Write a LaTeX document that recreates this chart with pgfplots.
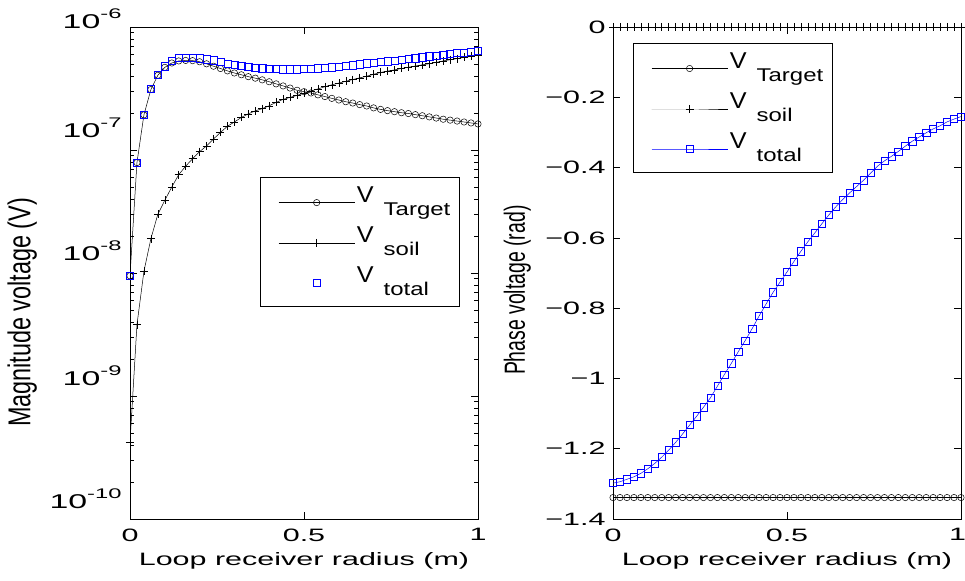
\documentclass[border=0pt]{standalone}
\usepackage{fontspec}
\setmainfont{Liberation Sans}
\newfontfamily\tfont{Liberation Sans}[FakeStretch=1.7]
\newfontfamily\vfont{Liberation Sans}[FakeStretch=1.1]
\newfontfamily\sfont{Liberation Sans}[FakeStretch=1.3]
\usepackage{graphicx}
\usepackage{pgfplots}
\usepackage{pgfplotstable}
\pgfplotsset{compat=1.18}

\newcommand{\tk}{\tfont\fontsize{18}{20}\selectfont}
\newcommand{\lgd}[1]{{\vfont\fontsize{23}{24}\selectfont\raisebox{13bp}{V}}\hspace{10bp}{\sfont\fontsize{18.5}{19}\selectfont #1\vphantom{g}}}
\newcommand{\ex}[2]{\raisebox{#2}[\height][\depth]{{\tfont\fontsize{20}{22}\selectfont 10}\raisebox{10bp}{\tfont\fontsize{14}{15}\selectfont #1}}}
\newcommand{\yl}[3]{\scalebox{1}[#3]{\rmfamily\fontsize{#2}{#2}\selectfont #1}}

\pgfplotstableread{
x T S V
0.00 9.5e-9 4.2e-10 9.5e-9
0.02 7.9e-8 3.8e-9 7.9e-8
0.04 1.93e-7 1.03e-8 1.93e-7
0.06 3.10e-7 1.9e-8 3.13e-7
0.08 4.05e-7 3.0e-8 4.10e-7
0.10 4.70e-7 3.9e-8 4.80e-7
0.12 5.10e-7 5.0e-8 5.30e-7
0.14 5.30e-7 6.3e-8 5.58e-7
0.16 5.35e-7 7.4e-8 5.66e-7
0.18 5.33e-7 8.5e-8 5.64e-7
0.20 5.22e-7 9.7e-8 5.56e-7
0.22 5.02e-7 1.08e-7 5.46e-7
0.24 4.80e-7 1.23e-7 5.36e-7
0.26 4.60e-7 1.39e-7 5.20e-7
0.28 4.40e-7 1.56e-7 5.05e-7
0.30 4.23e-7 1.69e-7 4.94e-7
0.32 4.09e-7 1.84e-7 4.86e-7
0.34 3.95e-7 1.97e-7 4.77e-7
0.36 3.84e-7 2.08e-7 4.69e-7
0.38 3.72e-7 2.17e-7 4.61e-7
0.40 3.59e-7 2.29e-7 4.57e-7
0.42 3.45e-7 2.44e-7 4.54e-7
0.44 3.32e-7 2.58e-7 4.53e-7
0.46 3.19e-7 2.68e-7 4.53e-7
0.48 3.06e-7 2.78e-7 4.53e-7
0.50 2.98e-7 2.90e-7 4.55e-7
0.52 2.91e-7 3.02e-7 4.58e-7
0.54 2.81e-7 3.14e-7 4.61e-7
0.56 2.72e-7 3.27e-7 4.65e-7
0.58 2.63e-7 3.39e-7 4.70e-7
0.60 2.55e-7 3.50e-7 4.75e-7
0.62 2.47e-7 3.62e-7 4.81e-7
0.64 2.41e-7 3.74e-7 4.89e-7
0.66 2.34e-7 3.86e-7 4.98e-7
0.68 2.28e-7 3.98e-7 5.07e-7
0.70 2.20e-7 4.13e-7 5.13e-7
0.72 2.14e-7 4.27e-7 5.20e-7
0.74 2.09e-7 4.38e-7 5.27e-7
0.76 2.05e-7 4.48e-7 5.34e-7
0.78 2.01e-7 4.60e-7 5.41e-7
0.80 1.98e-7 4.71e-7 5.48e-7
0.82 1.94e-7 4.82e-7 5.56e-7
0.84 1.90e-7 4.93e-7 5.67e-7
0.86 1.86e-7 5.03e-7 5.77e-7
0.88 1.82e-7 5.16e-7 5.87e-7
0.90 1.78e-7 5.30e-7 5.96e-7
0.92 1.75e-7 5.42e-7 6.04e-7
0.94 1.72e-7 5.54e-7 6.13e-7
0.96 1.69e-7 5.66e-7 6.21e-7
0.98 1.66e-7 5.78e-7 6.30e-7
1.00 1.63e-7 5.90e-7 6.38e-7
}\magtable

\pgfplotstableread{
x T S V
0.00 -1.339 0 -1.298
0.02 -1.339 0 -1.294
0.04 -1.339 0 -1.287
0.06 -1.339 0 -1.280
0.08 -1.339 0 -1.270
0.10 -1.339 0 -1.257
0.12 -1.339 0 -1.242
0.14 -1.339 0 -1.224
0.16 -1.339 0 -1.204
0.18 -1.339 0 -1.182
0.20 -1.339 0 -1.158
0.22 -1.339 0 -1.133
0.24 -1.339 0 -1.108
0.26 -1.339 0 -1.082
0.28 -1.339 0 -1.055
0.30 -1.339 0 -1.022
0.32 -1.339 0 -0.989
0.34 -1.339 0 -0.957
0.36 -1.339 0 -0.924
0.38 -1.339 0 -0.892
0.40 -1.339 0 -0.858
0.42 -1.339 0 -0.822
0.44 -1.339 0 -0.788
0.46 -1.339 0 -0.755
0.48 -1.339 0 -0.726
0.50 -1.339 0 -0.697
0.52 -1.339 0 -0.667
0.54 -1.339 0 -0.638
0.56 -1.339 0 -0.611
0.58 -1.339 0 -0.586
0.60 -1.339 0 -0.560
0.62 -1.339 0 -0.535
0.64 -1.339 0 -0.512
0.66 -1.339 0 -0.491
0.68 -1.339 0 -0.472
0.70 -1.339 0 -0.454
0.72 -1.339 0 -0.436
0.74 -1.339 0 -0.416
0.76 -1.339 0 -0.396
0.78 -1.339 0 -0.381
0.80 -1.339 0 -0.368
0.82 -1.339 0 -0.354
0.84 -1.339 0 -0.339
0.86 -1.339 0 -0.325
0.88 -1.339 0 -0.313
0.90 -1.339 0 -0.301
0.92 -1.339 0 -0.290
0.94 -1.339 0 -0.281
0.96 -1.339 0 -0.270
0.98 -1.339 0 -0.262
1.00 -1.339 0 -0.255
}\phtable

\pgfplotsset{
  mystyle/.style={
    scale only axis, width=348bp, height=492bp,
    xmin=0, xmax=1, xtick={0,0.5,1},
    tick align=inside, major tick length=7bp, minor tick length=4bp,
    axis line style={line width=0.9bp},
    every tick/.append style={line width=0.7bp, black},
    ticklabel style={font=\tk},
    xticklabel style={yshift=-6bp},
    label style={font=\tk},
    xlabel={Loop receiver radius (m)},
    xlabel style={at={(axis description cs:0.5,-0.085)}, anchor=center},
    legend cell align=left,
    legend image code/.code={\path (-11bp,9bp) (76bp,-9bp); \draw[mark repeat=2,mark phase=2,##1] plot coordinates {(0bp,-1bp)(38bp,-1bp)(76bp,-1bp)};},
    legend style={draw=black, line width=0.8bp, anchor=north west,
      inner xsep=7bp, inner ysep=7bp, row sep=6bp,
      /tikz/every even column/.append style={column sep=0bp}},
  },
  tgt/.style={black, line width=0.5bp, mark=o, mark size=3.2bp, mark options={solid, line width=0.5bp}},
  soil/.style={black, line width=0.5bp, mark=+, mark size=4bp, mark options={solid, line width=0.5bp}},
  tot/.style={blue, line width=0.5bp, mark=square, mark size=3.6bp, mark options={solid, line width=0.6bp}},
}

\begin{document}
\begin{tikzpicture}
\path[use as bounding box] (0,0) rectangle (965bp,581bp);
\begin{axis}[mystyle, at={(130bp,62bp)}, anchor=south west,
  xticklabels={0,0.5,1},
  ymode=log, ymin=1e-10, ymax=1e-6,
  ytick={1e-10,1e-9,1e-8,1e-7,1e-6},
  yticklabels={\ex{-10}{20bp},\ex{-9}{20bp},\ex{-8}{22bp},\ex{-7}{22bp},\ex{-6}{8bp}},
  yticklabel style={xshift=-5bp},
  ylabel={\yl{Magnitude voltage (V)}{23.5}{1.35}},
  ylabel style={at={(axis description cs:-0.31,0.42)}, anchor=center, rotate=0},
  legend style={at={(axis description cs:0.3736,0.695)}},
]
\addplot[tgt] table[x=x,y=T]{\magtable};
\addlegendentry{\lgd{Target}}
\addplot[soil] table[x=x,y=S]{\magtable};
\addlegendentry{\lgd{soil}}
\addplot[tot, only marks] table[x=x,y=V]{\magtable};
\addlegendentry{\lgd{total}}
\end{axis}
\begin{axis}[mystyle, at={(613bp,62bp)}, anchor=south west,
  xticklabels={0,0.5,\hspace*{-7bp}1},
  ymin=-1.4, ymax=0,
  ytick={-1.4,-1.2,-1,-0.8,-0.6,-0.4,-0.2,0},
  yticklabels={−1.4,−1.2,−1,−0.8,−0.6,−0.4,−0.2,0},
  yticklabel style={xshift=-4bp},
  ylabel={\yl{Phase voltage (rad)}{19.5}{1.5}},
  ylabel style={at={(axis description cs:-0.275,0.465)}, anchor=center, rotate=0},
  legend style={at={(axis description cs:0.0573,0.9675)}},
]
\addplot[tgt] table[x=x,y=T]{\phtable};
\addlegendentry{\lgd{Target}}
\addplot[soil] table[x=x,y=S]{\phtable};
\addlegendentry{\lgd{soil}}
\addplot[tot] table[x=x,y=V]{\phtable};
\addlegendentry{\lgd{total}}
\end{axis}
\end{tikzpicture}
\end{document}
